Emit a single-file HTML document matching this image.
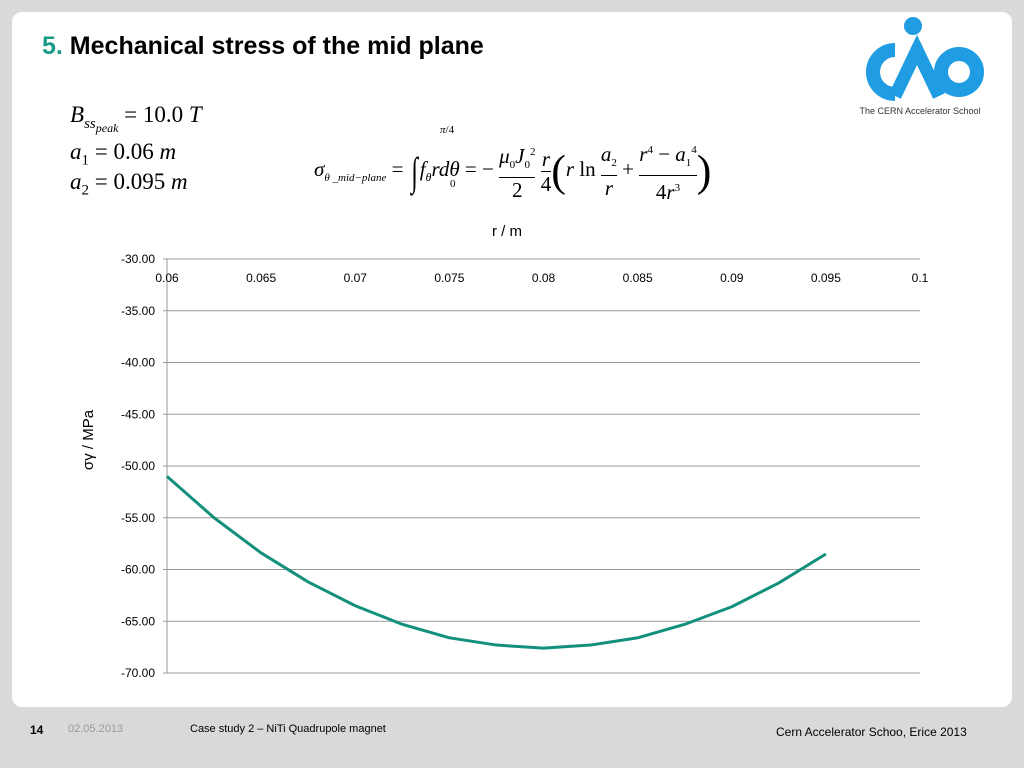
<!DOCTYPE html>
<html><head><meta charset="utf-8"><style>
body{margin:0;width:1024px;height:768px;background:#d9d9d9;position:relative;overflow:hidden;font-family:"Liberation Sans",sans-serif}
.card{position:absolute;left:12px;top:12px;width:1000px;height:695px;background:#fff;border-radius:10px}
.t{position:absolute;white-space:nowrap}
.m{font-family:"Liberation Serif",serif}
</style></head><body>
<div class="card"></div>
<div class="t" style="left:42px;top:32px;font-size:25px;font-weight:bold;font-family:'Liberation Sans Narrow','Liberation Sans',sans-serif;letter-spacing:0px"><span style="color:#1a9a87">5.</span> Mechanical stress of the mid plane</div>
<svg style="position:absolute;left:855px;top:14px" width="130" height="106">
<circle cx="58" cy="12" r="9" fill="#1f9ce2"/>
<path d="M40 36 A22 22 0 1 0 40 80" fill="none" stroke="#1f9ce2" stroke-width="14"/>
<circle cx="104" cy="58" r="18" fill="none" stroke="#1f9ce2" stroke-width="14"/>
<path d="M40 82 L62 36 L84 82" fill="none" stroke="#1f9ce2" stroke-width="13"/>
<text x="65" y="100" font-size="9" text-anchor="middle" font-family="Liberation Sans Narrow, Liberation Sans, sans-serif" fill="#333">The CERN Accelerator School</text>
</svg>
<div class="t m" style="left:70px;top:102px;font-size:23px"><i>B<sub style="font-size:15px">ss<sub style="font-size:12px">peak</sub></sub></i> = 10.0 <i>T</i></div>
<div class="t m" style="left:70px;top:139px;font-size:23px"><i>a</i><sub style="font-size:15px">1</sub> = 0.06 <i>m</i></div>
<div class="t m" style="left:70px;top:169px;font-size:23px"><i>a</i><sub style="font-size:15px">2</sub> = 0.095 <i>m</i></div>
<div class="t m" style="left:314px;top:138px;font-size:21px"><i>σ<sub style="font-size:11px">θ _mid−plane</sub></i> = <span style="font-size:40px;vertical-align:middle;display:inline-block;transform:scaleX(0.6)">∫</span><i>f<sub style="font-size:12px">θ</sub>rdθ</i> = − <span style="display:inline-block;text-align:center;vertical-align:middle;line-height:24px"><i>μ</i><sub style="font-size:11px">0</sub><i>J</i><sub style="font-size:11px">0</sub><sup style="font-size:11px">2</sup><br><span style="border-top:1px solid #000;display:block">2</span></span> <span style="display:inline-block;text-align:center;vertical-align:middle;line-height:24px"><i>r</i><br><span style="border-top:1px solid #000;display:block">4</span></span><span style="font-size:44px;vertical-align:middle">(</span><i>r</i> ln <span style="display:inline-block;text-align:center;vertical-align:middle;line-height:24px"><i>a</i><sub style="font-size:11px">2</sub><br><span style="border-top:1px solid #000;display:block"><i>r</i></span></span> + <span style="display:inline-block;text-align:center;vertical-align:middle;line-height:24px"><i>r</i><sup style="font-size:11px">4</sup> − <i>a</i><sub style="font-size:11px">1</sub><sup style="font-size:11px">4</sup><br><span style="border-top:1px solid #000;display:block">4<i>r</i><sup style="font-size:11px">3</sup></span></span><span style="font-size:44px;vertical-align:middle">)</span></div>
<div class="t m" style="left:440px;top:124px;font-size:11px"><i>π</i>/4</div>
<div class="t m" style="left:450px;top:178px;font-size:11px">0</div>
<svg id="chart" width="1024" height="768" style="position:absolute;left:0;top:0"></svg>
<div class="t" style="left:30px;top:723px;font-size:12px;font-weight:bold">14</div>
<div class="t" style="left:68px;top:723px;font-size:11px;color:#999">02.05.2013</div>
<div class="t" style="left:190px;top:723px;font-size:11px">Case study 2 – NiTi Quadrupole magnet</div>
<div class="t" style="left:776px;top:725px;font-size:12px">Cern Accelerator Schoo, Erice 2013</div>
<script>
const xTicks=[0.06,0.065,0.07,0.075,0.08,0.085,0.09,0.095,0.1];
const xTickLabels=["0.06","0.065","0.07","0.075","0.08","0.085","0.09","0.095","0.1"];
const yTicks=[-30,-35,-40,-45,-50,-55,-60,-65,-70];
const rValues=[0.06,0.0625,0.065,0.0675,0.07,0.0725,0.075,0.0775,0.08,0.0825,0.085,0.0875,0.09,0.0925,0.095];
const stressValues=[-51.0,-55.0,-58.4,-61.2,-63.5,-65.3,-66.6,-67.3,-67.6,-67.3,-66.6,-65.3,-63.6,-61.3,-58.5];
const svg=document.getElementById('chart');const NS='http://www.w3.org/2000/svg';
const L=167,R=920,T=259,B=673;
const xs=v=>L+(v-0.06)/(0.1-0.06)*(R-L);
const ys=v=>T+(-30-v)/40*(B-T);
function mk(t,a,p){const e=document.createElementNS(NS,t);for(const k in a)e.setAttribute(k,a[k]);(p||svg).appendChild(e);return e;}
yTicks.forEach(v=>{
 const g=mk('line',{x1:L-4,x2:R,y1:ys(v),y2:ys(v),stroke:'#999','stroke-width':1});
 
 
 const t=mk('text',{x:L-12,y:ys(v)+4,'text-anchor':'end','font-size':12,'font-family':'Liberation Sans, sans-serif'});
 t.textContent=v.toFixed(2);
 
 
});
const ax=mk('line',{x1:L,x2:L,y1:T,y2:B,stroke:'#999'});


xTicks.forEach((v,i)=>{
 const t=mk('text',{x:xs(v),y:T+23,'text-anchor':'middle','font-size':12,'font-family':'Liberation Sans, sans-serif'});
 t.textContent=xTickLabels[i];
 
 
});
const xt=mk('text',{x:507,y:236,'text-anchor':'middle','font-size':15,'font-family':'Liberation Sans, sans-serif'});
xt.textContent='r / m';


const yt=mk('text',{x:93,y:440,'text-anchor':'middle','font-size':15,'font-family':'Liberation Sans, sans-serif',transform:'rotate(-90 93 440)'});
yt.textContent='σγ / MPa';


const pl=mk('polyline',{points:rValues.map((r,i)=>xs(r)+','+ys(stressValues[i])).join(' '),fill:'none',stroke:'#13907c','stroke-width':3,'stroke-linejoin':'round'});


</script>
</body></html>
